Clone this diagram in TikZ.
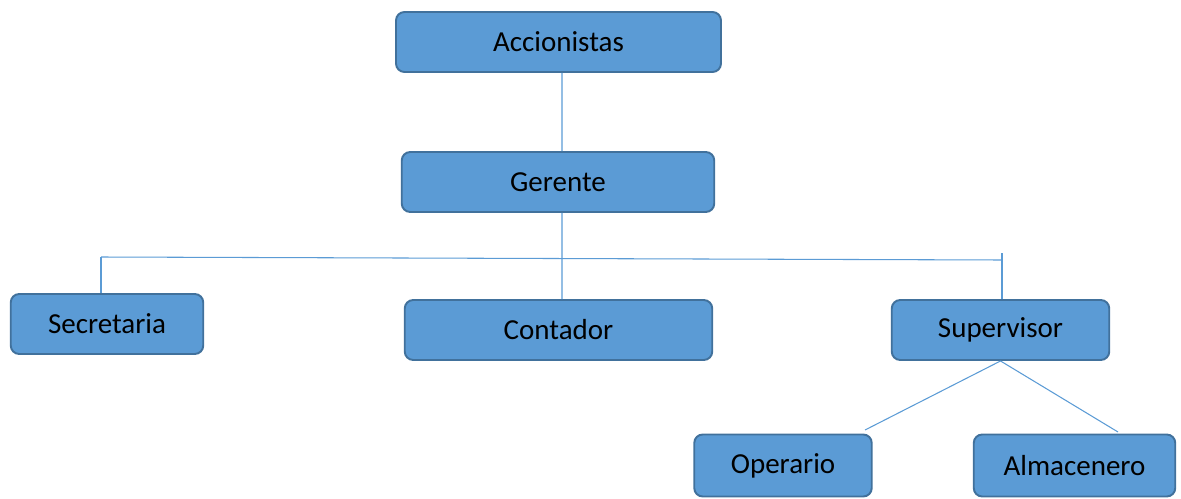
\documentclass[tikz,border=0pt]{standalone}
\usepackage{fontspec}
\setmainfont{Carlito}
\usetikzlibrary{positioning}

\definecolor{boxfill}{HTML}{5B9BD5}
\definecolor{boxline}{HTML}{41719C}

\begin{document}
\begin{tikzpicture}[
  every node/.style={font=\fontsize{16.5}{19}\selectfont},
  orgbox/.style={draw=boxline, fill=boxfill, line width=1.1pt, rounded corners=0.17cm, minimum height=1.2cm, inner sep=0pt},
  link/.style={draw=boxfill, line width=0.6pt}]
  \useasboundingbox (0,0) rectangle (23.62,-9.96);

  \node[orgbox, minimum width=6.5cm] (accionistas) at (11.17,-0.84) {Accionistas};
  \node[orgbox, minimum width=6.25cm] (gerente) at (11.16,-3.64) {Gerente};
  \node[orgbox, minimum width=3.85cm] (secretaria) at (2.14,-6.48) {Secretaria};
  \node[orgbox, minimum width=6.15cm] (contador) at (11.17,-6.6) {Contador};
  \node[orgbox, minimum width=4.35cm] (supervisor) at (20.01,-6.6) {Supervisor};
  \node[orgbox, minimum width=3.55cm, minimum height=1.24cm] (operario) at (15.66,-9.31) {Operario};
  \node[orgbox, minimum width=4.03cm, minimum height=1.24cm] (almacenero) at (21.49,-9.31) {Almacenero};

  \coordinate (barL) at (2.02,-5.14);
  \coordinate (barR) at (20.04,-5.20);
  \coordinate (barTop) at (20.04,-5.06);
  \coordinate (opEnd) at (17.3,-8.6);
  \coordinate (alEnd) at (22.36,-8.64);

  \draw[link] ([xshift=0.07cm]accionistas.south) -- ([xshift=0.08cm]gerente.north);
  \draw[link] ([xshift=0.08cm]gerente.south) -- ([xshift=0.07cm]contador.north);
  \draw[link] (barL) -- (barR);
  \draw[link] (barL) -- (barL |- secretaria.north);
  \draw[link] (barTop) -- (barTop |- supervisor.north);
  \draw[link] (supervisor.south) -- (opEnd);
  \draw[link] (supervisor.south) -- (alEnd);
\end{tikzpicture}
\end{document}
